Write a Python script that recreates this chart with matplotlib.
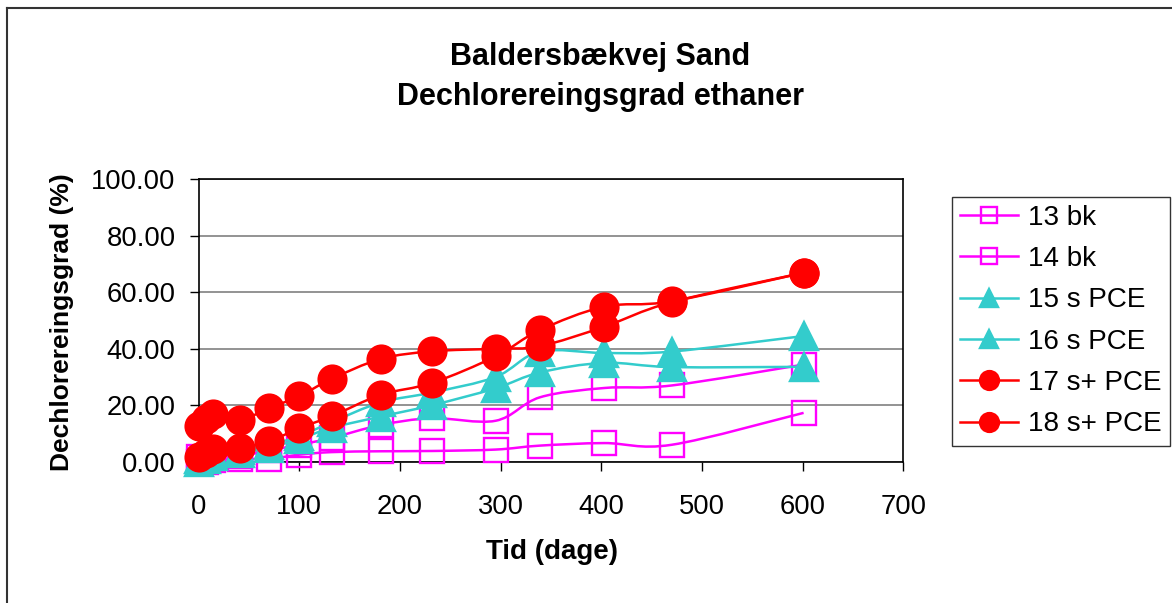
#!/usr/bin/env python3
import numpy as np
import matplotlib
matplotlib.use("Agg")
import matplotlib.pyplot as plt
from matplotlib.path import Path
from matplotlib.patches import PathPatch
from matplotlib.lines import Line2D

# ====== DATA ======
days = [0, 7, 14, 41, 70, 100, 132, 181, 232, 295, 339, 403, 470, 601]

s13_bk = [1.5, 1.0, 2.0, 2.0, 4.0, 6.0, 8.4, 13.0, 15.4, 14.5, 22.8, 26.1, 27.0, 34.4]
s14_bk = [0.0, 0.0, 0.5, 1.0, 1.0, 2.5, 3.4, 3.7, 3.8, 4.3, 5.7, 6.6, 6.0, 17.3]
s15_pce = [1.0, 2.0, 3.0, 4.0, 6.0, 9.0, 14.0, 21.0, 24.5, 30.0, 39.0, 38.5, 39.0, 44.5]
s16_pce = [0.0, 1.0, 2.0, 3.0, 5.0, 8.0, 12.0, 16.0, 20.0, 26.0, 31.6, 35.0, 33.5, 33.6]
s17_pce = [12.5, 15.0, 17.0, 14.8, 19.0, 23.2, 29.3, 36.4, 39.1, 40.0, 40.9, 47.8, 56.5, 66.9]
s18_pce = [1.5, 3.0, 4.5, 4.9, 7.2, 11.9, 16.1, 23.7, 27.9, 37.3, 46.6, 54.9, 56.8, 66.9]

labels = ["13 bk", "14 bk", "15 s PCE", "16 s PCE", "17 s+ PCE", "18 s+ PCE"]
x_ticks = [0, 100, 200, 300, 400, 500, 600, 700]
y_ticks = [0, 20, 40, 60, 80, 100]

# ====== STYLE ======
MAGENTA = "#FF00FF"
CYAN = "#33CCCC"
RED = "#FF0000"
FS_TICK = 19.7
FS_LEG = 20
FS_LAB = 20
FS_TITLE = 22
plt.rcParams["font.family"] = ["Liberation Sans", "DejaVu Sans"]


def smooth_path(x, y):
    # Excel-like smoothed line: Catmull-Rom as cubic bezier segments
    p = np.column_stack([x, y]).astype(float)
    verts = [p[0]]
    codes = [Path.MOVETO]
    n = len(p)
    for i in range(n - 1):
        p0 = p[i - 1] if i > 0 else p[i]
        p1, p2 = p[i], p[i + 1]
        p3 = p[i + 2] if i + 2 < n else p[i + 1]
        c1 = p1 + (p2 - p0) / 6.0
        c2 = p2 - (p3 - p1) / 6.0
        verts += [c1, c2, p2]
        codes += [Path.CURVE4] * 3
    return Path(verts, codes)


def draw_series(ax, x, y, color, marker, ms, filled, z):
    ax.add_patch(PathPatch(smooth_path(x, y), fc="none", ec=color, lw=1.8, zorder=z))
    ax.plot(x, y, ls="none", marker=marker, ms=ms, mew=1.7,
            mec=color, mfc=color if filled else "none", zorder=z + 0.5,
            clip_on=False)


fig = plt.figure(figsize=(11.72, 6.03), dpi=100)
ax = fig.add_axes([0.1695, 0.2343, 0.6012, 0.4684])

series = [
    (s13_bk, MAGENTA, "s", 17.5, False),
    (s14_bk, MAGENTA, "s", 17.5, False),
    (s15_pce, CYAN, "^", 20, True),
    (s16_pce, CYAN, "^", 20, True),
    (s17_pce, RED, "o", 20, True),
    (s18_pce, RED, "o", 20, True),
]
handles = []
for k, (vals, col, mk, ms, filled) in enumerate(series):
    draw_series(ax, days, vals, col, mk, ms, filled, 3 + 2 * k)
    handles.append(Line2D([], [], color=col, lw=1.8, marker=mk, ms=ms * 0.68,
                          mew=1.7, mec=col, mfc=col if filled else "none"))

ax.set_xlim(0, 700)
ax.set_ylim(0, 100)
ax.set_xticks(x_ticks)
ax.set_yticks(y_ticks)
ax.set_xticklabels([str(v) for v in x_ticks])
ax.set_yticklabels([f"{v:.2f}" for v in y_ticks])
ax.tick_params(axis="both", direction="out", length=6.5, width=1, labelsize=FS_TICK, color="black")
ax.tick_params(axis="x", pad=17)
ax.tick_params(axis="y", pad=10)
ax.yaxis.grid(True, color="#808080", lw=1.2)
ax.set_axisbelow(True)
for s in ax.spines.values():
    s.set_color("black")
    s.set_linewidth(1.2)

fig.text(0.512, 0.905, "Baldersbækvej Sand", ha="center", va="center", fontsize=FS_TITLE, fontweight="bold")
fig.text(0.512, 0.839, "Dechlorereingsgrad ethaner", ha="center", va="center", fontsize=FS_TITLE, fontweight="bold")
fig.text(0.471, 0.085, "Tid (dage)", ha="center", va="center", fontsize=FS_LAB, fontweight="bold")
fig.text(0.053, 0.466, "Dechlorereingsgrad (%)", ha="center", va="center", rotation=90,
         fontsize=19, fontweight="bold")

leg = fig.legend(handles, labels, loc="upper left", bbox_to_anchor=(0.812, 0.674),
                 fontsize=FS_LEG, frameon=True, fancybox=False, shadow=False,
                 handlelength=2.1, handletextpad=0.35, labelspacing=0.55,
                 borderpad=0.3, borderaxespad=0)
leg.get_frame().set_edgecolor("black")
leg.get_frame().set_linewidth(1.0)

# chart area border (only top and left visible in the crop)
fig.add_artist(Line2D([0.006, 1.0], [0.986, 0.986], color="#333333", lw=1.5, transform=fig.transFigure))
fig.add_artist(Line2D([0.006, 0.006], [0.0, 0.986], color="#333333", lw=1.5, transform=fig.transFigure))

fig.savefig("out.png", dpi=100)
